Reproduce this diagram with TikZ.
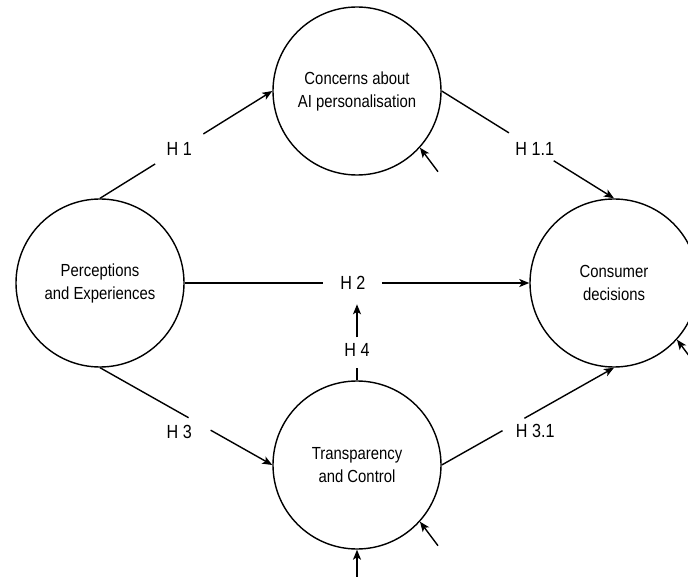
\documentclass[tikz,border=0pt]{standalone}
\usepackage{fontspec}
\setmainfont{Liberation Sans}[FakeStretch=0.85]
\usetikzlibrary{calc,arrows.meta}
\begin{document}
\begin{tikzpicture}[x=1pt,y=-1pt,
  every node/.style={font=\fontsize{17.5}{23}\selectfont},
  state/.style={circle,draw,line width=1.4pt,minimum size=168pt,inner sep=0pt,align=center},
  hlab/.style={font=\fontsize{19}{22}\selectfont,inner sep=0pt},
  conn/.style={line width=1.4pt},
  arr/.style={conn,-{Stealth[length=10pt,width=8pt,inset=2.5pt]}},
]
\useasboundingbox (0,0) rectangle (688,577);
\clip (0,0) rectangle (688,577);
\node[state] (L) at (100,283) {Perceptions\\and Experiences};
\node[state] (T) at (357,91) {Concerns about\\AI personalisation};
\node[state] (R) at (614,283) {Consumer\\decisions};
\node[state] (B) at (357,465) {Transparency\\and Control};

% H1
\draw[conn] (L.north) -- ($(L.north)!0.32!(T.west)$);
\draw[arr] ($(L.north)!0.6!(T.west)$) -- (T.west);
\node[hlab] (h1) at ($(L.north)!0.46!(T.west)$) {H 1};
% H1.1
\draw[conn] (T.east) -- ($(T.east)!0.39!(R.north)$);
\draw[arr] ($(T.east)!0.65!(R.north)$) -- (R.north);
\node[hlab] (h11) at ($(T.east)!0.54!(R.north)$) {H 1.1};
% H2
\draw[conn] (L.east) -- ($(L.east)!0.40!(R.west)$);
\draw[arr] ($(L.east)!0.572!(R.west)$) -- (R.west);
\node[hlab] (h2) at ($(L.east)!0.488!(R.west)$) {H 2};
% H3
\draw[conn] (L.south) -- ($(L.south)!0.514!(B.west)$);
\draw[arr] ($(L.south)!0.642!(B.west)$) -- (B.west);
\node[hlab,yshift=-19pt] (h3) at ($(L.south)!0.46!(B.west)$) {H 3};
% H3.1
\draw[conn] (B.east) -- ($(B.east)!0.353!(R.south)$);
\draw[arr] ($(B.east)!0.48!(R.south)$) -- (R.south);
\node[hlab,yshift=-19pt] (h31) at ($(B.east)!0.543!(R.south)$) {H 3.1};
% H4
\coordinate (h4a) at ($(B.north)+(0,-12)$);
\node[hlab] (h4) at ($(B.north)+(0,-30)$) {H 4};
\coordinate (h4b) at ($(B.north)+(0,-43)$);
\coordinate (h4c) at ($(B.north)+(0,-76)$);
\draw[conn] (B.north) -- (h4a);
\draw[arr] (h4b) -- (h4c);
% error terms
\coordinate (eT) at ($(T.-42)+(18,24)$);
\coordinate (eB) at ($(B.-42)+(18,24)$);
\coordinate (eR) at ($(R.-42)+(18,24)$);
\coordinate (eS) at ($(B.south)+(0,32)$);
\draw[arr] (eT) -- (T.-42);
\draw[arr] (eB) -- (B.-42);
\draw[arr] (eR) -- (R.-42);
\draw[arr] (eS) -- (B.south);
\end{tikzpicture}
\end{document}
